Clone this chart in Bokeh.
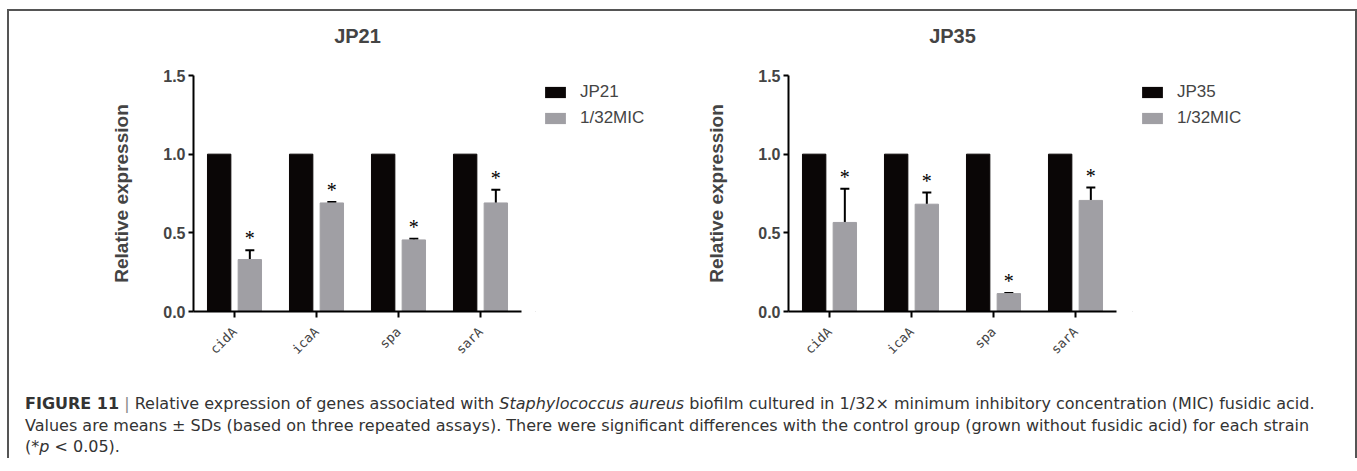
import math
from bokeh.plotting import figure
from bokeh.models import (ColumnDataSource, FactorRange, Range1d, Whisker, TeeHead,
                          Legend, LegendItem, FixedTicker, PrintfTickFormatter, Div, Title)
from bokeh.transform import dodge
from bokeh.layouts import row, column
from bokeh.embed import file_html
from bokeh.resources import INLINE

# ---------------- data ----------------
genes = ["cidA", "icaA", "spa", "sarA"]
jp21_control = [1.0, 1.0, 1.0, 1.0]
jp21_mic = [0.33, 0.69, 0.455, 0.69]
jp21_sd = [0.06, 0.006, 0.007, 0.084]
jp35_control = [1.0, 1.0, 1.0, 1.0]
jp35_mic = [0.566, 0.682, 0.114, 0.706]
jp35_sd = [0.214, 0.074, 0.004, 0.082]
y_ticks = [0.0, 0.5, 1.0, 1.5]
labels_jp21 = ["JP21", "1/32MIC"]
labels_jp35 = ["JP35", "1/32MIC"]
titles = ["JP21", "JP35"]
y_label = "Relative expression"
caption_html = (
    "<b>FIGURE 11</b> <span style='color:#888'>|</span> Relative expression of genes associated with "
    "<i>Staphylococcus aureus</i> biofilm cultured in 1/32&times; minimum inhibitory concentration (MIC) fusidic acid.<br>"
    "Values are means &plusmn; SDs (based on three repeated assays). There were significant differences with the control "
    "group (grown without fusidic acid) for each strain<br>"
    "(*<i>p</i> &lt; 0.05)."
)

BLACK = "#0a0606"
GRAY = "#a09fa4"
FONT = "Liberation Sans"
FIG_H = 382


def make_chart(title, ctrl, mic, sd, left_b, right_b):
    upper = [m + s for m, s in zip(mic, sd)]
    star_y = [u + 0.075 for u in upper]
    src = ColumnDataSource(dict(gene=genes, ctrl=ctrl, mic=mic, upper=upper,
                                star_y=star_y, star=["*"] * len(genes)))
    p = figure(x_range=FactorRange(factors=genes, range_padding=0),
               y_range=Range1d(0, 1.5),
               frame_width=328, frame_height=236,
               min_border_left=left_b, min_border_right=right_b,
               min_border_top=64, min_border_bottom=82,
               output_backend="svg", toolbar_location=None, title=title)
    p.outline_line_color = None
    p.grid.visible = False
    p.background_fill_color = "white"
    p.border_fill_color = "white"

    p.vbar(x=dodge("gene", -0.187, range=p.x_range), top="ctrl", width=0.285,
           source=src, fill_color=BLACK, line_color=BLACK)
    p.vbar(x=dodge("gene", 0.187, range=p.x_range), top="mic", width=0.285,
           source=src, fill_color=GRAY, line_color=GRAY)
    w = Whisker(base=dodge("gene", 0.187, range=p.x_range), lower="mic", upper="upper",
                source=src, dimension="height", line_width=2, line_color="black",
                upper_head=TeeHead(size=9, line_width=2, line_color="black"),
                lower_head=None)
    p.add_layout(w)
    p.text(x=dodge("gene", 0.187, range=p.x_range), y="star_y", text="star", source=src,
           text_align="center", text_baseline="middle", text_font_size="20px",
           text_color="black", text_font=FONT)

    # spacer between frame and title, then the title itself
    p.add_layout(Title(text=" ", text_font_size="1px", standoff=26), "above")
    p.title.text_font = FONT
    p.title.text_font_size = "20px"
    p.title.text_font_style = "bold"
    p.title.align = "center"
    p.title.standoff = 0

    # y axis
    ya = p.yaxis[0]
    ya.ticker = FixedTicker(ticks=y_ticks)
    ya.formatter = PrintfTickFormatter(format="%.1f")
    ya.axis_label = y_label
    ya.axis_label_text_font = FONT
    ya.axis_label_text_font_size = "19px"
    ya.axis_label_text_font_style = "bold"
    ya.axis_label_standoff = 28
    ya.major_label_text_font = FONT
    ya.major_label_text_font_size = "16px"
    ya.major_label_text_font_style = "bold"
    ya.major_label_standoff = 3
    ya.axis_line_width = 2
    ya.major_tick_line_width = 2
    ya.major_tick_out = 5
    ya.major_tick_in = 0
    ya.minor_tick_line_color = None

    # x axis
    xa = p.xaxis[0]
    xa.axis_line_width = 2
    xa.major_tick_line_width = 2
    xa.major_tick_out = 6
    xa.major_tick_in = 0
    xa.major_label_orientation = math.pi / 4
    xa.major_label_text_font = "DejaVu Sans Mono"
    xa.major_label_text_font_size = "13px"
    xa.major_label_standoff = 12
    return p


def make_legend(leg_labels, width):
    # a figure that only holds the legend (its swatch renderers lie outside the view)
    lf = figure(width=width, height=FIG_H, x_range=Range1d(0, 1), y_range=Range1d(0, 1),
                output_backend="svg", toolbar_location=None, min_border=0,
                x_axis_location=None, y_axis_location=None)
    lf.outline_line_color = None
    lf.grid.visible = False
    swatch = ColumnDataSource(dict(x=[-5.0], top=[-5.0], bottom=[-6.0]))
    ra = lf.vbar(x="x", top="top", bottom="bottom", width=0.5, source=swatch,
                 fill_color=BLACK, line_color=None)
    rb = lf.vbar(x="x", top="top", bottom="bottom", width=0.5, source=swatch,
                 fill_color=GRAY, line_color=None)
    leg = Legend(items=[LegendItem(label=leg_labels[0], renderers=[ra]),
                        LegendItem(label=leg_labels[1], renderers=[rb])],
                 location="top_left", glyph_width=26, glyph_height=14,
                 label_standoff=12, label_text_font=FONT, label_text_font_size="17px",
                 label_height=20, padding=0, margin=7, spacing=6,
                 border_line_color=None, background_fill_alpha=0)
    lf.add_layout(leg)
    return lf


p1 = make_chart(titles[0], jp21_control, jp21_mic, jp21_sd, 184, 14)
l1 = make_legend(labels_jp21, 146)
p2 = make_chart(titles[1], jp35_control, jp35_mic, jp35_sd, 107, 16)
l2 = make_legend(labels_jp35, 223)

cap = Div(text=caption_html, width=1320, margin=(0, 0, 0, 16),
          styles={"font-family": "DejaVu Sans", "font-size": "16px", "color": "#333333",
                  "line-height": "21.5px", "white-space": "nowrap"})

layout = column(row(p1, l1, p2, l2), cap, margin=(9, 0, 0, 7),
                styles={"border-top": "2px solid #555555", "border-left": "2px solid #555555",
                        "border-right": "2px solid #555555", "background": "white"})

open("out.html", "w").write(file_html(layout, INLINE))
